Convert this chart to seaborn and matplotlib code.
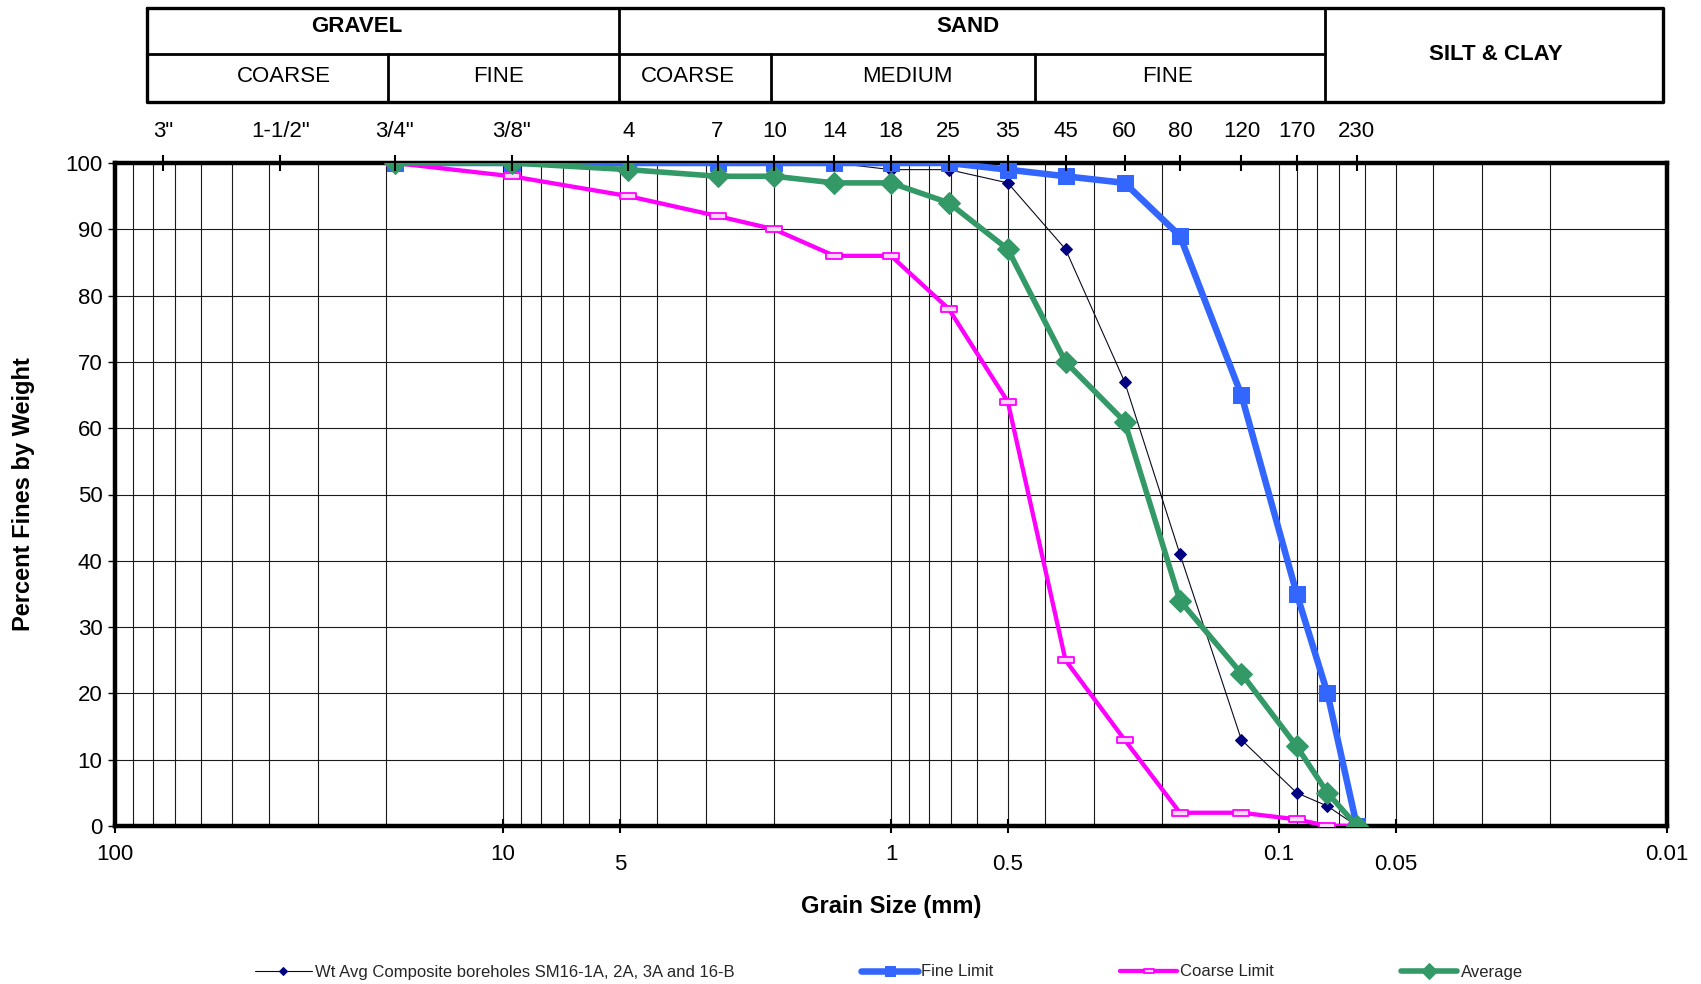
import numpy as np
import pandas as pd
import matplotlib
matplotlib.use("Agg")
import matplotlib.pyplot as plt
from matplotlib.path import Path as MPath
from matplotlib.ticker import FixedLocator, LogLocator, NullFormatter
import seaborn as sns

sns.set_theme(style="white")
plt.rcParams["font.family"] = ["Liberation Sans", "DejaVu Sans"]

# ---- Data (percent passing vs grain size) ----
grain_mm = [19.0, 9.5, 4.75, 2.8, 2.0, 1.4, 1.0, 0.71, 0.5, 0.355, 0.25, 0.18, 0.125, 0.09, 0.075, 0.063]
wt_avg   = [100, 100, 100, 100, 100, 100, 99, 99, 97, 87, 67, 41, 13, 5, 3, 0]
fine_lim = [100, 100, 100, 100, 100, 100, 100, 100, 99, 98, 97, 89, 65, 35, 20, 0]
coarse_lim = [100, 98, 95, 92, 90, 86, 86, 78, 64, 25, 13, 2, 2, 1, 0, 0]
average  = [100, 100, 99, 98, 98, 97, 97, 94, 87, 70, 61, 34, 23, 12, 5, 0]

# sieve scale along the top
sieve_labels = ['3"', '1-1/2"', '3/4"', '3/8"', "4", "7", "10", "14", "18", "25",
                "35", "45", "60", "80", "120", "170", "230"]
sieve_mm = [75, 37.5, 19, 9.5, 4.75, 2.8, 2.0, 1.4, 1.0, 0.71, 0.5, 0.355, 0.25,
            0.18, 0.125, 0.09, 0.063]

bottom_ticks = [100, 10, 5, 1, 0.5, 0.1, 0.05, 0.01]
bottom_labels = ["100", "10", "5", "1", "0.5", "0.1", "0.05", "0.01"]
y_ticks = list(range(0, 101, 10))

W, H = 1701, 984
fig = plt.figure(figsize=(W / 100, H / 100), dpi=100)
fig.patch.set_facecolor("white")

L, R, T, B = 115, 1667, 163, 826
ax = fig.add_axes([L / W, 1 - B / H, (R - L) / W, (B - T) / H])
ax.set_xscale("log")

df = pd.DataFrame({"mm": grain_mm, "wt": wt_avg, "fine": fine_lim,
                   "coarse": coarse_lim, "avg": average})

# hollow flat box marker used for the coarse limit
rect = MPath([(-1, -0.4), (1, -0.4), (1, 0.4), (-1, 0.4), (-1, -0.4)],
             [MPath.MOVETO, MPath.LINETO, MPath.LINETO, MPath.LINETO, MPath.CLOSEPOLY])

sns.lineplot(data=df, x="mm", y="wt", ax=ax, sort=False, errorbar=None,
             color="#0a0a20", lw=0.8, marker="D", ms=6, mfc="#000080", mec="#000080",
             label="Wt Avg Composite boreholes SM16-1A, 2A, 3A and 16-B")
sns.lineplot(data=df, x="mm", y="fine", ax=ax, sort=False, errorbar=None,
             color="#3366FF", lw=4.7, marker="s", ms=11, mec="#3366FF",
             label="Fine Limit")
sns.lineplot(data=df, x="mm", y="coarse", ax=ax, sort=False, errorbar=None,
             color="#FF00FF", lw=3.1, marker=rect, ms=11, mfc="#ffd6ff", mec="#FF00FF",
             mew=1.3, label="Coarse Limit")
sns.lineplot(data=df, x="mm", y="avg", ax=ax, sort=False, errorbar=None,
             color="#339966", lw=4.0, marker="D", ms=11, mec="#339966",
             label="Average")
if ax.get_legend() is not None:
    ax.get_legend().remove()

ax.set_xlim(100, 0.01)
ax.set_ylim(0, 100)

# grid
ax.xaxis.set_minor_locator(LogLocator(base=10, subs=np.arange(2, 10), numticks=50))
ax.xaxis.set_minor_formatter(NullFormatter())
ax.set_xticks(bottom_ticks)
ax.set_xticklabels(bottom_labels)
ax.set_yticks(y_ticks)
ax.grid(True, which="both", axis="x", color="#1a1a1a", lw=0.8)
ax.grid(True, which="major", axis="y", color="#1a1a1a", lw=0.8)
ax.tick_params(axis="x", which="minor", length=0)
ax.tick_params(axis="x", which="major", direction="inout", length=10, width=1.5,
               labelsize=16, pad=8, colors="black")
ax.tick_params(axis="y", direction="out", length=5, width=1, labelsize=16, pad=4,
               colors="black", left=True)
for tk, v in zip(ax.xaxis.get_major_ticks(), bottom_ticks):
    if v in (5, 0.5, 0.05):
        tk.set_pad(15)
for s in ax.spines.values():
    s.set_color("black")
    s.set_linewidth(3.2)
    s.set_zorder(1.5)

ax.set_xlabel("Grain Size (mm)", fontsize=17, fontweight="bold", color="black")
ax.xaxis.set_label_coords(0.5, -(895 - B) / (B - T))
ax.set_ylabel("Percent Fines by Weight", fontsize=17, fontweight="bold", color="black")
ax.yaxis.set_label_coords(-(L - 35) / (R - L), 0.5)

# top sieve axis
ax2 = ax.twiny()
ax2.set_xscale("log")
ax2.set_xlim(100, 0.01)
ax2.xaxis.set_major_locator(FixedLocator(sieve_mm))
ax2.set_xticklabels(sieve_labels)
ax2.xaxis.set_minor_locator(FixedLocator([]))
ax2.tick_params(axis="x", direction="inout", length=12, width=1.5, labelsize=16,
                pad=9, colors="black")
for s in ax2.spines.values():
    s.set_visible(False)
ax2.grid(False)

# soil classification table
tb = fig.add_axes([0, 0, 1, 1], zorder=-1)
tb.set_xlim(0, W)
tb.set_ylim(H, 0)
tb.axis("off")
x0, x1, y0, y1, ym = 147, 1663, 8, 102, 54
tb.plot([x0, x1, x1, x0, x0], [y0, y0, y1, y1, y0], color="black", lw=2.4)
tb.plot([x0, 1325], [ym, ym], color="black", lw=2.0)
for xv in (619, 1325):
    tb.plot([xv, xv], [y0, y1], color="black", lw=2.0)
for xv in (388, 771, 1035):
    tb.plot([xv, xv], [ym, y1], color="black", lw=2.0)
for txt, xc, yc, wt in [("GRAVEL", 357, 27, "bold"), ("SAND", 968, 27, "bold"),
                         ("SILT & CLAY", 1496, 54, "bold"),
                         ("COARSE", 284, 76, "normal"), ("FINE", 498, 77, "normal"),
                         ("COARSE", 688, 76, "normal"), ("MEDIUM", 907, 77, "normal"),
                         ("FINE", 1167, 77, "normal")]:
    tb.text(xc, yc, txt, ha="center", va="center", fontsize=16, fontweight=wt,
            color="black")

# legend
handles, labels = ax.get_legend_handles_labels()
fig.legend(handles, labels, loc="center", bbox_to_anchor=(889 / W, 1 - 972 / H),
           ncol=4, frameon=False, fontsize=12, handlelength=3.4, handletextpad=0.2,
           columnspacing=7.6, markerscale=0.7)

fig.savefig("out.png", dpi=100, facecolor="white")
